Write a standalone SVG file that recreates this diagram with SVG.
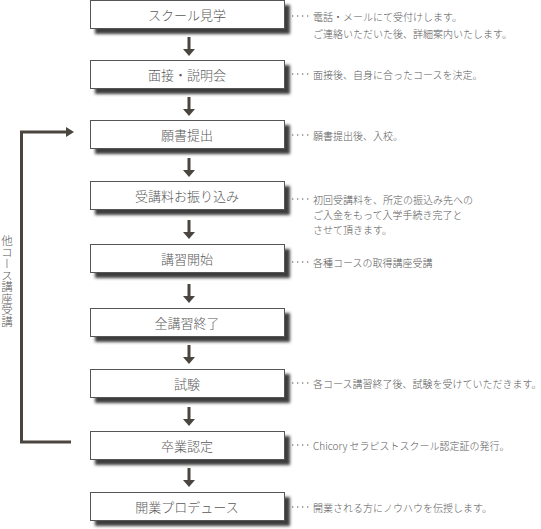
<svg xmlns="http://www.w3.org/2000/svg" width="541" height="529" viewBox="0 0 541 529">
<style>
.box{fill:#fff;stroke:#555;stroke-width:1}
.lbl{font-family:"Noto Sans CJK JP","Noto Sans",sans-serif;font-size:13px;font-weight:300;fill:#5a5a5a;text-anchor:middle;dominant-baseline:central}
.note{font-family:"Noto Sans CJK JP","Noto Sans",sans-serif;font-size:10px;font-weight:300;fill:#5a5a5a;dominant-baseline:central}
.lead{stroke:#888;stroke-width:1.3;stroke-dasharray:1.3 3.7}
.arr{fill:#4a453f}
.loop{fill:none;stroke:#4a453f;stroke-width:3}
</style>
<defs>
<filter id="sh" x="-10%" y="-30%" width="130%" height="180%">
<feGaussianBlur in="SourceAlpha" stdDeviation="1.6" result="b"/>
<feOffset dx="5" dy="4.5" result="o"/>
<feFlood flood-color="#333" flood-opacity="0.95"/>
<feComposite in2="o" operator="in" result="s"/>
<feMerge><feMergeNode in="s"/><feMergeNode in="SourceGraphic"/></feMerge>
</filter>
<g id="arrowShape"><rect x="-1.5" y="0" width="3" height="13" class="arr"/><polygon points="-6,12 6,12 0,19" class="arr"/></g>
</defs>

<g id="connectors">
<use href="#arrowShape" x="189" y="37"/>
<use href="#arrowShape" x="189" y="97"/>
<use href="#arrowShape" x="189" y="158"/>
<use href="#arrowShape" x="189" y="220"/>
<use href="#arrowShape" x="189" y="284"/>
<use href="#arrowShape" x="189" y="345"/>
<use href="#arrowShape" x="189" y="407"/>
<use href="#arrowShape" x="189" y="468"/>
<path class="loop" d="M71,442 H21.5 V132 H67"/>
<polygon class="arr" points="66,127 74,132 66,137"/>
</g>

<g id="loop-label">
<text x="7" y="235" style="font-family:'Noto Sans CJK JP',sans-serif;font-size:11.5px;font-weight:300;fill:#5a5a5a;writing-mode:vertical-rl;text-orientation:upright" text-anchor="start">他コース講座受講</text>
</g>

<g id="n1"><rect class="box" x="90.5" y="0.5" width="194" height="28" filter="url(#sh)"/><text class="lbl" x="187" y="14">スクール見学</text>
<line class="lead" x1="292" y1="16" x2="311" y2="16"/><text class="note" x="313" y="16">電話・メールにて受付けします。</text><text class="note" x="313" y="33">ご連絡いただいた後、詳細案内いたします。</text></g>

<g id="n2"><rect class="box" x="90.5" y="60.5" width="194" height="28" filter="url(#sh)"/><text class="lbl" x="187" y="74">面接・説明会</text>
<line class="lead" x1="292" y1="74" x2="311" y2="74"/><text class="note" x="313" y="74">面接後、自身に合ったコースを決定。</text></g>

<g id="n3"><rect class="box" x="90.5" y="120.5" width="194" height="28" filter="url(#sh)"/><text class="lbl" x="187" y="134">願書提出</text>
<line class="lead" x1="292" y1="135" x2="311" y2="135"/><text class="note" x="313" y="135">願書提出後、入校。</text></g>

<g id="n4"><rect class="box" x="90.5" y="181.5" width="194" height="28" filter="url(#sh)"/><text class="lbl" x="187" y="195">受講料お振り込み</text>
<line class="lead" x1="292" y1="199" x2="311" y2="199"/><text class="note" x="313" y="199">初回受講料を、所定の振込み先への</text><text class="note" x="313" y="214">ご入金をもって入学手続き完了と</text><text class="note" x="313" y="229">させて頂きます。</text></g>

<g id="n5"><rect class="box" x="90.5" y="244.5" width="194" height="28" filter="url(#sh)"/><text class="lbl" x="187" y="258">講習開始</text>
<line class="lead" x1="292" y1="262" x2="311" y2="262"/><text class="note" x="313" y="262">各種コースの取得講座受講</text></g>

<g id="n6"><rect class="box" x="90.5" y="308.5" width="194" height="28" filter="url(#sh)"/><text class="lbl" x="187" y="322">全講習終了</text></g>

<g id="n7"><rect class="box" x="90.5" y="369.5" width="194" height="28" filter="url(#sh)"/><text class="lbl" x="187" y="383">試験</text>
<line class="lead" x1="292" y1="383" x2="311" y2="383"/><text class="note" x="313" y="383">各コース講習終了後、試験を受けていただきます。</text></g>

<g id="n8"><rect class="box" x="90.5" y="431.5" width="194" height="28" filter="url(#sh)"/><text class="lbl" x="187" y="445">卒業認定</text>
<line class="lead" x1="292" y1="445" x2="311" y2="445"/><text class="note" x="313" y="445">Chicory セラピストスクール認定証の発行。</text></g>

<g id="n9"><rect class="box" x="90.5" y="492.5" width="194" height="28" filter="url(#sh)"/><text class="lbl" x="187" y="506">開業プロデュース</text>
<line class="lead" x1="292" y1="507" x2="311" y2="507"/><text class="note" x="313" y="507">開業される方にノウハウを伝授します。</text></g>
</svg>
